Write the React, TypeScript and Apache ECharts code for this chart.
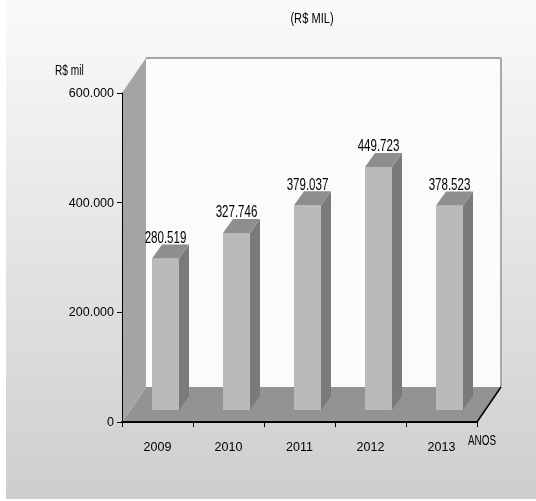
import React, { useEffect, useRef } from 'react';
import * as echarts from 'echarts';

const categories = ['2009', '2010', '2011', '2012', '2013'];
const values = [280519, 327746, 379037, 449723, 378523];
const yMin = 0;
const yMax = 600000;
const yStep = 200000;
const titleText = '(R$ MIL)';
const yName = 'R$ mil';
const xName = 'ANOS';

const FONT = "'Liberation Sans Narrow', 'Arial Narrow', 'Liberation Sans', Arial, sans-serif";

function fmt(n: number): string {
  return String(Math.round(n)).replace(/\B(?=(\d{3})+(?!\d))/g, '.');
}

// 3D look (pixel offsets)
const DX = 24;
const DY = -35;
const BAR_OFF_X = 8;
const BAR_OFF_Y = -12;
const BAR_DX = 10;
const BAR_DY = -14;
const BAR_PERSP = 0.985;
const NARROW = 0.68;

export default function App() {
  const ref = useRef<HTMLDivElement>(null);
  useEffect(() => {
    if (!ref.current) return;
    const chart = echarts.init(ref.current, null, { renderer: 'svg' });
    const option: any = {
      animation: false,
      grid: { left: 122, top: 93, width: 355, height: 329, containLabel: false },
      xAxis: {
        type: 'category',
        data: categories,
        z: 10,
        axisLine: { show: true, lineStyle: { color: '#000', width: 2 } },
        axisTick: { show: true, length: 5, lineStyle: { color: '#000', width: 1 } },
        axisLabel: { fontSize: 12.5, fontFamily: FONT, color: '#000', margin: 18 },
        splitLine: { show: false },
      },
      yAxis: {
        type: 'value',
        min: yMin,
        max: yMax,
        interval: yStep,
        z: 10,
        axisLine: { show: true, lineStyle: { color: '#000', width: 1 } },
        axisTick: { show: true, length: 5, lineStyle: { color: '#000', width: 1 } },
        axisLabel: { fontSize: 12.5, fontFamily: FONT, color: '#000', margin: 8, formatter: (v: number) => fmt(v) },
        splitLine: { show: false },
      },
      graphic: [
        {
          type: 'rect',
          z: -10,
          silent: true,
          shape: { x: 6, y: 0, width: 530, height: 499 },
          style: {
            fill: new echarts.graphic.LinearGradient(0, 0, 0, 1, [
              { offset: 0, color: '#fafafa' },
              { offset: 1, color: '#cecece' },
            ]),
          },
        },
        {
          type: 'text',
          x: 312,
          y: 18,
          scaleX: 0.74,
          style: { text: titleText, fontSize: 15, fontFamily: FONT, fill: '#000', align: 'center', verticalAlign: 'middle' },
        },
        {
          type: 'text',
          x: 55,
          y: 70,
          scaleX: 0.7,
          style: { text: yName, fontSize: 14.5, fontFamily: FONT, fill: '#000', align: 'left', verticalAlign: 'middle' },
        },
        {
          type: 'text',
          x: 468,
          y: 440,
          scaleX: 0.66,
          style: { text: xName, fontSize: 15, fontFamily: FONT, fill: '#000', align: 'left', verticalAlign: 'middle' },
        },
      ],
      series: [
        {
          type: 'custom',
          name: 'scene',
          z: 1,
          silent: true,
          data: [[0, 0]],
          renderItem: (params: any, api: any) => {
            const cs = params.coordSys;
            const x = cs.x, y = cs.y, w = cs.width, h = cs.height;
            return {
              type: 'group',
              children: [
                { type: 'rect', shape: { x: x + DX, y: y + DY, width: w, height: h }, style: { fill: '#fbfbfb' } },
                { type: 'line', shape: { x1: x + DX, y1: y + DY, x2: x + w + DX, y2: y + DY }, style: { stroke: '#8a8a8a', lineWidth: 1.5 } },
                { type: 'line', shape: { x1: x + w + DX, y1: y + DY, x2: x + w + DX, y2: y + h + DY }, style: { stroke: '#a9a9a9', lineWidth: 2 } },
                {
                  type: 'polygon',
                  shape: { points: [[x, y], [x + DX, y + DY], [x + DX, y + h + DY], [x, y + h]] },
                  style: { fill: '#a4a4a4' },
                },
                {
                  type: 'polygon',
                  shape: { points: [[x, y + h], [x + DX, y + h + DY], [x + w + DX, y + h + DY], [x + w, y + h]] },
                  style: { fill: '#939393' },
                },
                { type: 'line', shape: { x1: x, y1: y + h, x2: x + DX, y2: y + h + DY }, style: { stroke: '#b0b0b0', lineWidth: 1 } },
                { type: 'line', shape: { x1: x + w, y1: y + h, x2: x + w + DX, y2: y + h + DY }, style: { stroke: '#000', lineWidth: 1.5 } },
              ],
            };
          },
        },
        {
          type: 'custom',
          name: 'values',
          z: 3,
          data: values.map((v, i) => [i, v]),
          renderItem: (params: any, api: any) => {
            const i = api.value(0);
            const v = api.value(1);
            const top = api.coord([i, v]);
            const base = api.coord([i, 0]);
            const bw = api.size([1, 0])[0] * 0.38;
            const cx = top[0] + BAR_OFF_X;
            const x1 = cx - bw / 2;
            const x2 = cx + bw / 2;
            const yb = base[1] + BAR_OFF_Y;
            const yt = yb - (base[1] - top[1]) * BAR_PERSP;
            return {
              type: 'group',
              children: [
                {
                  type: 'polygon',
                  shape: { points: [[x2, yt], [x2 + BAR_DX, yt + BAR_DY], [x2 + BAR_DX, yb + BAR_DY], [x2, yb]] },
                  style: { fill: '#7a7a7a' },
                },
                { type: 'rect', shape: { x: x1, y: yt, width: bw, height: yb - yt }, style: { fill: '#bababa' } },
                {
                  type: 'polygon',
                  shape: { points: [[x1, yt], [x2, yt], [x2 + BAR_DX, yt + BAR_DY], [x1 + BAR_DX, yt + BAR_DY]] },
                  style: { fill: '#8e8e8e' },
                },
                {
                  type: 'text',
                  x: cx,
                  y: yt + BAR_DY + 1,
                  scaleX: NARROW,
                  style: { text: fmt(v), fontSize: 17, fontFamily: FONT, fill: '#000', align: 'center', verticalAlign: 'bottom' },
                },
              ],
            };
          },
        },
      ],
    };
    chart.setOption(option);
    return () => chart.dispose();
  }, []);
  return <div ref={ref} style={{ position: 'fixed', left: 0, top: 0, width: 536, height: 501 }} />;
}
